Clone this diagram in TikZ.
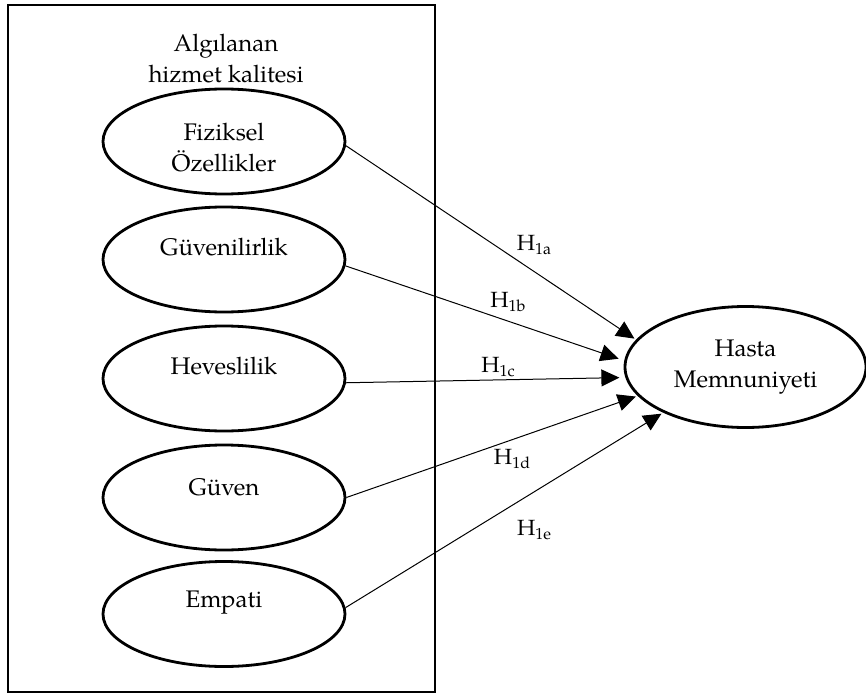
\documentclass[tikz,border=0pt]{standalone}
\usepackage{fontspec}
\setmainfont{texgyrepagella}[Extension=.otf,UprightFont=*-regular]
\usepackage{tikz}
\usetikzlibrary{shapes.geometric,arrows.meta}

\newcommand{\hsub}[1]{H\raisebox{-0.45ex}{\fontsize{8}{9}\selectfont #1}}

\begin{document}
\begin{tikzpicture}[x=0.5pt,y=-0.5pt,
  oval/.style={ellipse, draw, line width=1.4pt, minimum width=121pt,
    minimum height=52.5pt, inner sep=0pt},
  txt/.style={font=\fontsize{12}{15.5}\selectfont, align=center},
  hyp/.style={font=\fontsize{11}{13}\selectfont, inner sep=0pt},
  link/.style={-{Triangle[length=9pt,width=8.5pt]}, line width=0.5pt,
    shorten >=1pt}]
    \useasboundingbox (0,0) rectangle (866,695);
    % kutu
    \draw[line width=1.2pt] (8,5) rectangle (435,692);
    \node[txt] (title) at (226,59) {Algılanan\\hizmet kalitesi};
    % boyutlar
    \node[oval, label={[txt,yshift=-3pt]center:Fiziksel\\Özellikler}] (fiz) at (224,141.5) {};
    \node[oval, label={[txt,yshift=6pt]center:Güvenilirlik}] (guvenilir) at (224,259.5) {};
    \node[oval, label={[txt,yshift=6pt]center:Heveslilik}] (heves) at (224,378.5) {};
    \node[oval, label={[txt,yshift=5pt]center:Güven}] (guven) at (224,497.5) {};
    \node[oval, label={[txt,yshift=5.5pt]center:Empati}] (empati) at (224,614) {};
    \node[oval, txt, minimum width=120.5pt, minimum height=60.5pt] (hasta) at (745.5,367) {Hasta\\Memnuniyeti};
    % hipotezler
    \draw[link] (fiz.-2) -- (hasta.166.5);
    \draw[link, shorten >=3pt] (guvenilir.-3) -- (hasta.177);
    \draw[link, shorten >=3pt] (heves.-2) -- (hasta.185);
    \draw[link] (guven.0) -- (hasta.195);
    \draw[link] (empati.3) -- (hasta.209);
    \node[hyp] (h1a) at (534,245) {\hsub{1a}};
    \node[hyp] (h1b) at (508,302) {\hsub{1b}};
    \node[hyp] (h1c) at (498,367) {\hsub{1c}};
    \node[hyp] (h1d) at (512,459) {\hsub{1d}};
    \node[hyp] (h1e) at (534,530) {\hsub{1e}};
\end{tikzpicture}
\end{document}
